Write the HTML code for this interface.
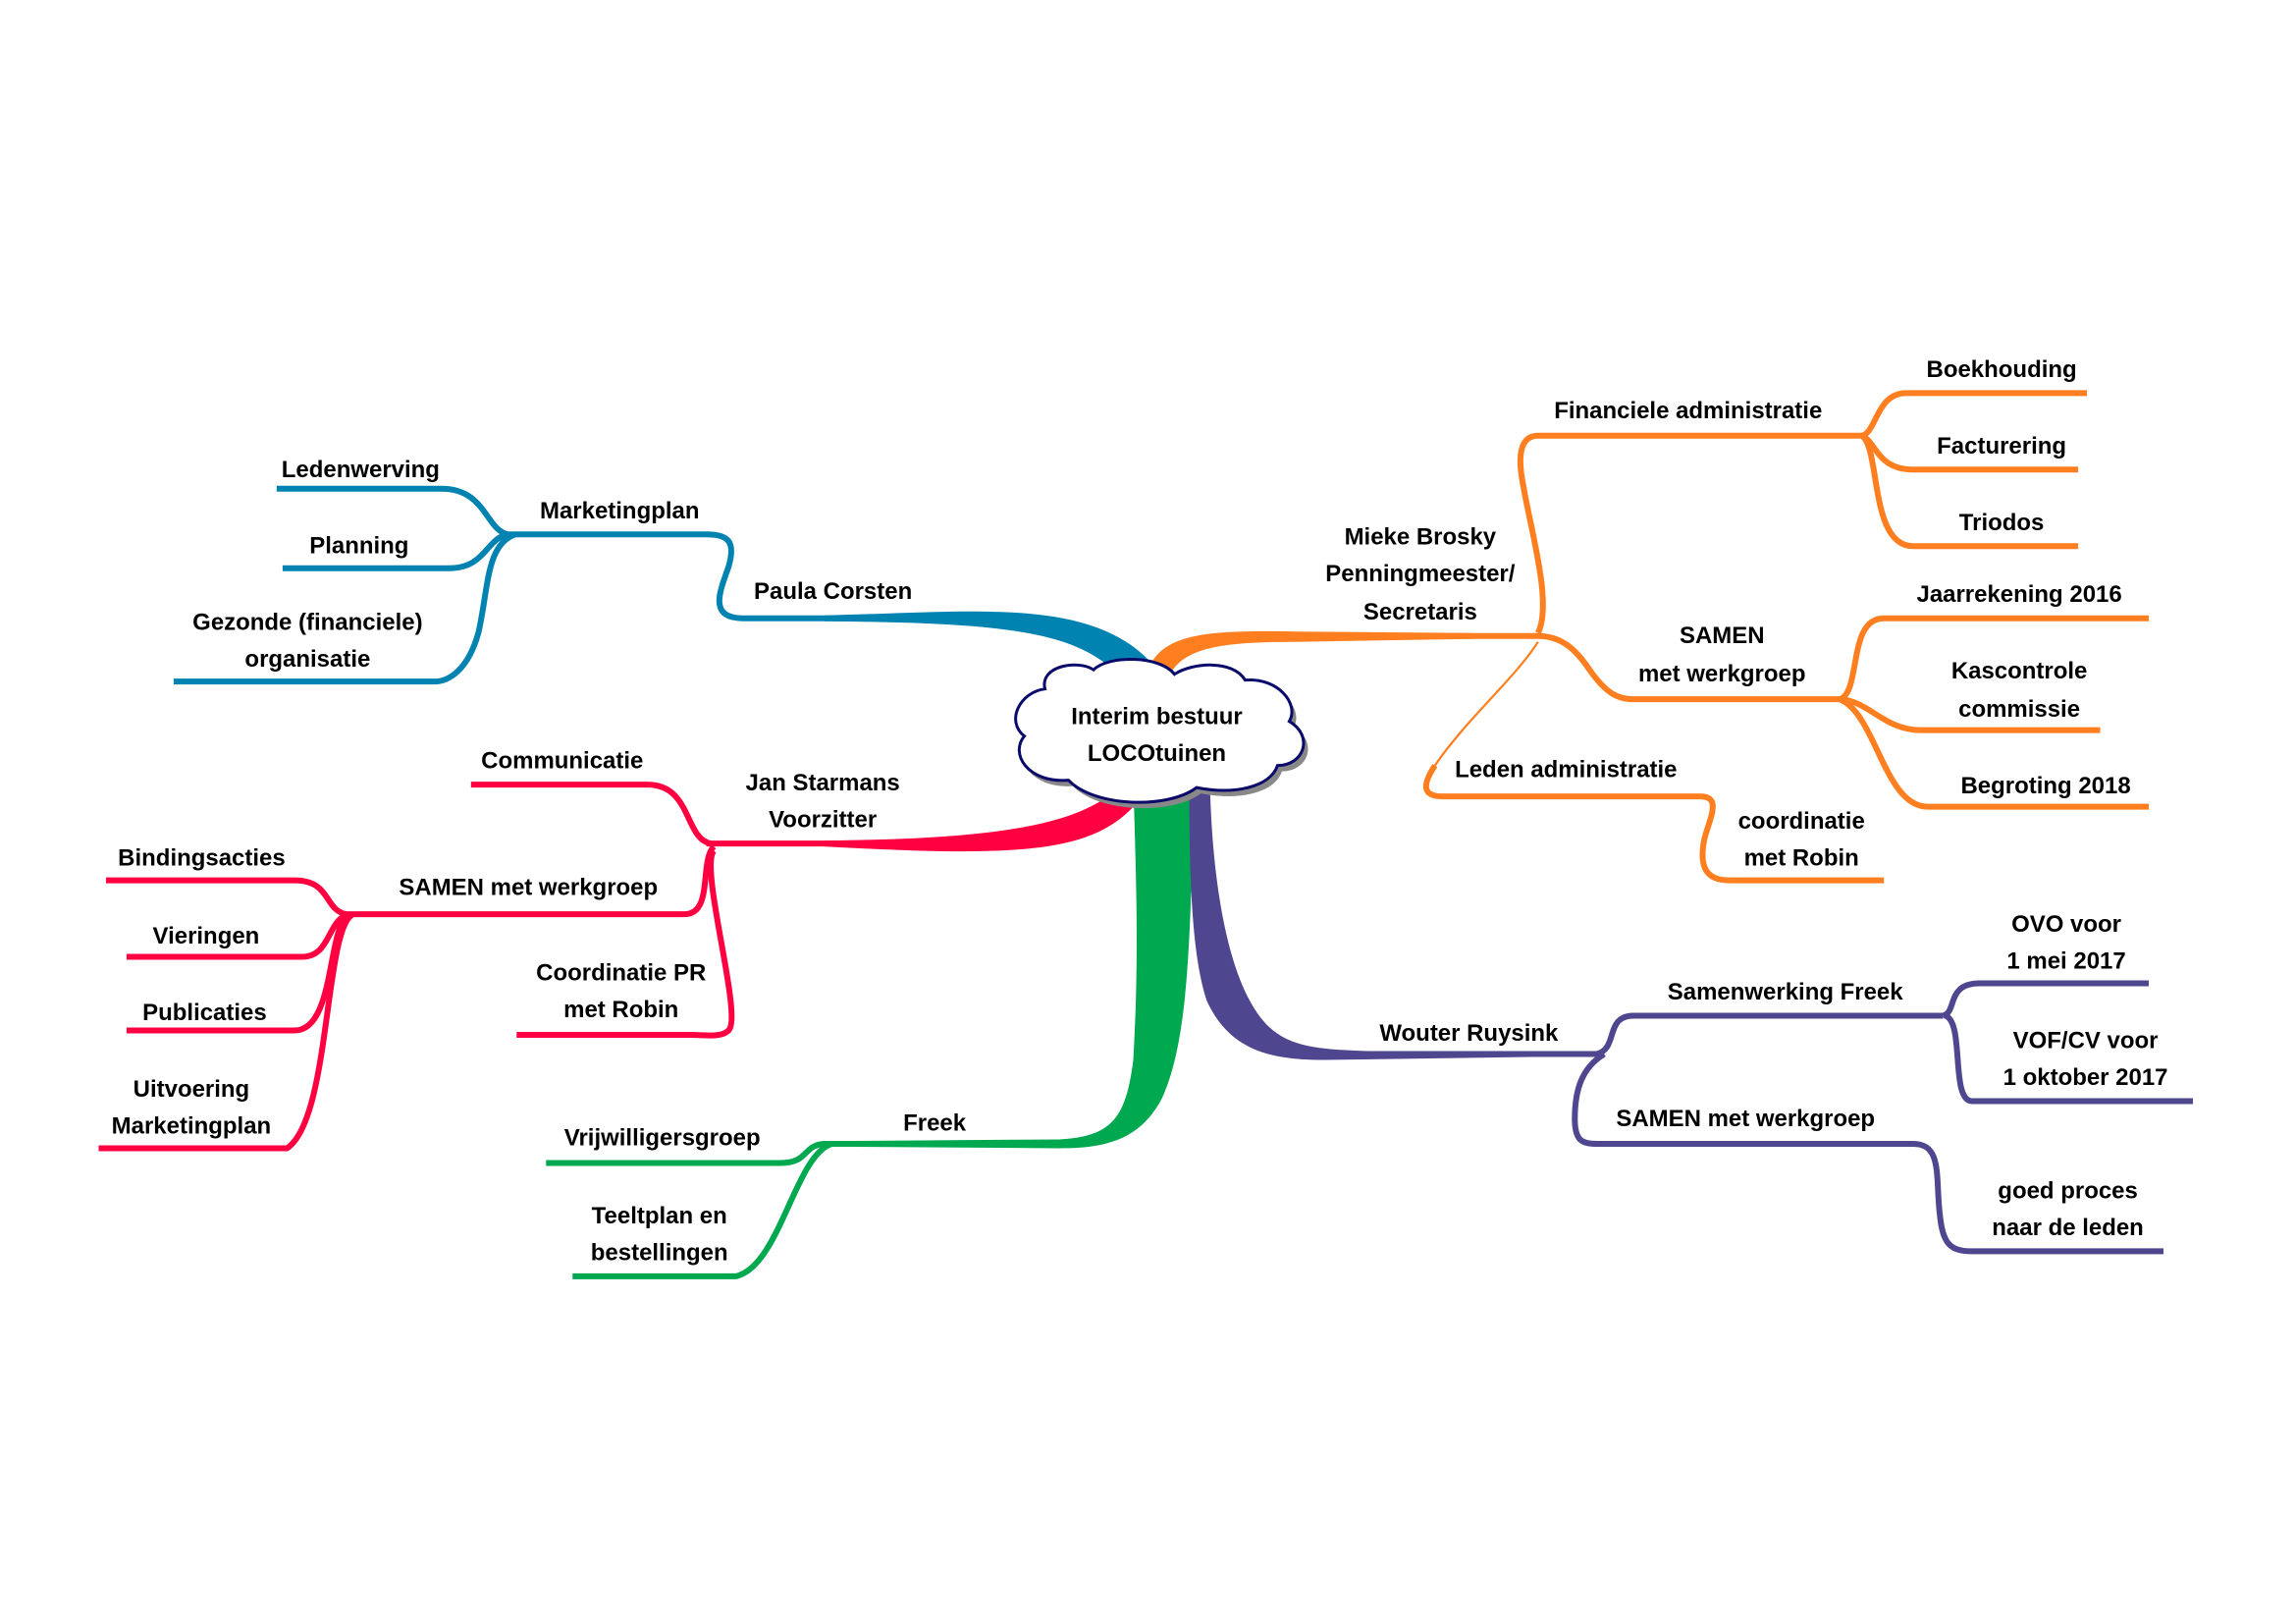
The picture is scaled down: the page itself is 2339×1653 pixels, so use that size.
<!DOCTYPE html>
<html><head><meta charset="utf-8"><style>
html,body{margin:0;padding:0;background:#fff;}
svg{display:block;}
text{font-family:"Liberation Sans",sans-serif;font-size:16px;font-weight:bold;fill:#000;text-anchor:middle;}
.b{stroke:#0083b0;} .r{stroke:#ff0040;} .g{stroke:#00a84f;} .p{stroke:#4f4690;} .o{stroke:#ff7f20;}
path.l{fill:none;stroke-width:4;stroke-linecap:butt;}
</style></head><body>
<svg width="2339" height="1653" viewBox="0 0 1560 1102.5" xmlns="http://www.w3.org/2000/svg">
<path d="M560 418 C660 416 740 405 782 450 L760 458 C730 430 690 423 560 422 Z" fill="#0083b0"/>
<path d="M560 571 C690 570 740 558 765 530 L770 548 C740 580 690 582 560 575 Z" fill="#ff0040"/>
<path d="M770 530 L812 530 C808 620 810 700 790 745 C775 775 750 780 720 780 L580 779 L580 775 L720 774 C755 772 765 760 770 720 C774 650 772 600 770 530 Z" fill="#00a84f"/>
<path d="M808 530 L822 530 C824 620 840 680 865 700 C880 712 900 713 930 714 L1040 714 L1040 718 L900 720 C860 720 835 712 820 680 C810 650 808 600 808 530 Z" fill="#4f4690"/>
<path d="M780 455 C790 430 820 428 880 429 L1000 430 L1000 434 L880 436 C830 436 805 440 795 458 Z" fill="#ff7f20"/>
<path class="l b" d="M580 420 L505 420 C480 420 490 400 495 385 C500 368 495 363 480 363 L345 363"/>
<path class="l b" d="M345 363 C330 360 330 332 300 332 L188 332"/>
<path class="l b" d="M345 363 C330 366 330 386 305 386 L192 386"/>
<path class="l b" d="M350 363 C330 370 332 400 325 430 C318 455 305 463 295 463 L118 463"/>
<path class="l r" d="M580 573 L480 573"/>
<path class="l r" d="M483 573 C465 570 470 533 440 533 L320 533"/>
<path class="l r" d="M485 575 C475 585 485 621 465 621 L235 621"/>
<path class="l r" d="M485 578 C475 590 505 690 495 700 C490 705 480 703 470 703 L351 703"/>
<path class="l r" d="M235 621 C220 618 225 598 200 598 L72 598"/>
<path class="l r" d="M237 621 C222 625 225 650 205 650 L86 650"/>
<path class="l r" d="M237 621 C222 630 228 700 200 700 L86 700"/>
<path class="l r" d="M240 621 C220 630 225 760 195 780 L67 780"/>
<path class="l g" d="M600 777 L560 777 C545 778 550 790 530 790 L371 790"/>
<path class="l g" d="M565 777 C540 785 530 860 500 867 L389 867"/>
<path class="l p" d="M1000 716 L1085 716 C1100 712 1090 690 1110 690 L1320 690"/>
<path class="l p" d="M1320 690 C1330 688 1322 668 1345 668 L1460 668"/>
<path class="l p" d="M1322 690 C1335 695 1325 748 1340 748 L1490 748"/>
<path class="l p" d="M1090 716 C1075 725 1070 740 1070 760 C1070 775 1075 777 1085 777 L1300 777 C1320 777 1315 800 1318 825 C1320 845 1325 850 1340 850 L1470 850"/>
<path class="l o" d="M960 432 L1045 432 C1060 432 1070 440 1080 455 C1092 472 1100 475 1110 475 L1250 475"/>
<path class="l o" d="M1045 430 C1055 410 1040 360 1035 330 C1030 305 1035 296 1045 296 L1265 296"/>
<path class="l o" d="M1265 296 C1275 294 1275 267 1295 267 L1418 267"/>
<path class="l o" d="M1265 296 C1275 300 1275 319 1300 319 L1412 319"/>
<path class="l o" d="M1265 296 C1278 305 1270 371 1300 371 L1412 371"/>
<path class="l o" d="M1250 475 C1265 470 1255 420 1280 420 L1460 420"/>
<path class="l o" d="M1250 475 C1270 476 1280 496 1305 496 L1427 496"/>
<path class="l o" d="M1250 475 C1275 485 1280 548 1310 548 L1460 548"/>
<path fill="none" stroke="#ff7f20" stroke-width="1.5" d="M1045 436 C1030 460 995 490 975 520"/>
<path class="l o" d="M975 520 C965 535 968 541 980 541 L1155 541 C1170 541 1162 555 1158 570 C1154 590 1160 598 1175 598 L1280 598"/>
<g transform="translate(3,4)"><path d="M710 468 C706 452 733 448 743 455 C753 445 788 445 798 458 C810 450 838 448 846 462 C868 460 883 478 876 490 C893 500 886 520 868 520 C863 535 838 540 813 535 C793 550 743 548 726 530 C698 532 686 512 696 500 C683 490 693 470 710 468 Z" fill="#888"/></g>
<path d="M710 468 C706 452 733 448 743 455 C753 445 788 445 798 458 C810 450 838 448 846 462 C868 460 883 478 876 490 C893 500 886 520 868 520 C863 535 838 540 813 535 C793 550 743 548 726 530 C698 532 686 512 696 500 C683 490 693 470 710 468 Z" fill="#fff" stroke="#0a0a6a" stroke-width="2"/>
<text x="786" y="492">Interim bestuur</text>
<text x="786" y="517">LOCOtuinen</text>
<text x="566" y="407">Paula Corsten</text>
<text x="421" y="352">Marketingplan</text>
<text x="245" y="324">Ledenwerving</text>
<text x="244" y="376">Planning</text>
<text x="209" y="428">Gezonde (financiele)</text>
<text x="209" y="453">organisatie</text>
<text x="559" y="537">Jan Starmans</text>
<text x="559" y="562">Voorzitter</text>
<text x="382" y="522">Communicatie</text>
<text x="359" y="608">SAMEN met werkgroep</text>
<text x="422" y="666">Coordinatie PR</text>
<text x="422" y="691">met Robin</text>
<text x="137" y="588">Bindingsacties</text>
<text x="140" y="641">Vieringen</text>
<text x="139" y="693">Publicaties</text>
<text x="130" y="745">Uitvoering</text>
<text x="130" y="770">Marketingplan</text>
<text x="635" y="768">Freek</text>
<text x="450" y="778">Vrijwilligersgroep</text>
<text x="448" y="831">Teeltplan en</text>
<text x="448" y="856">bestellingen</text>
<text x="998" y="707">Wouter Ruysink</text>
<text x="1213" y="679">Samenwerking Freek</text>
<text x="1404" y="633">OVO voor</text>
<text x="1404" y="658">1 mei 2017</text>
<text x="1417" y="712">VOF/CV voor</text>
<text x="1417" y="737">1 oktober 2017</text>
<text x="1186" y="765">SAMEN met werkgroep</text>
<text x="1405" y="814">goed proces</text>
<text x="1405" y="839">naar de leden</text>
<text x="965" y="370">Mieke Brosky</text>
<text x="965" y="395">Penningmeester/</text>
<text x="965" y="421">Secretaris</text>
<text x="1147" y="284">Financiele administratie</text>
<text x="1360" y="256">Boekhouding</text>
<text x="1360" y="308">Facturering</text>
<text x="1360" y="360">Triodos</text>
<text x="1170" y="437">SAMEN</text>
<text x="1170" y="463">met werkgroep</text>
<text x="1372" y="409">Jaarrekening 2016</text>
<text x="1372" y="461">Kascontrole</text>
<text x="1372" y="487">commissie</text>
<text x="1390" y="539">Begroting 2018</text>
<text x="1064" y="528">Leden administratie</text>
<text x="1224" y="563">coordinatie</text>
<text x="1224" y="588">met Robin</text>
</svg>
</body></html>
